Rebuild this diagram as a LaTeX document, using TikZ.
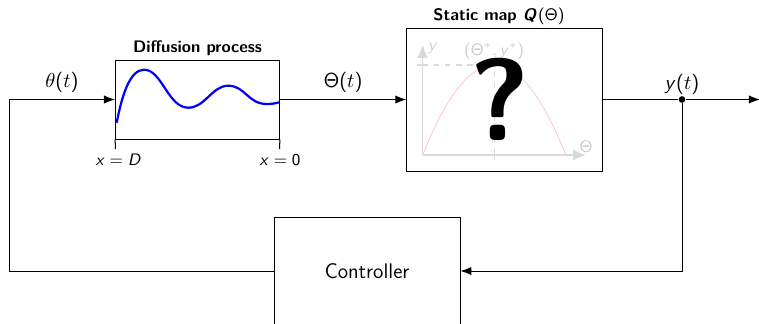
\documentclass[tikz,border=0pt]{standalone}
\usepackage{amsmath,amssymb}
\usepackage{xcolor}
\usepackage{tikz}
\usetikzlibrary{positioning,arrows.meta,calc}
\renewcommand{\familydefault}{\sfdefault}
\DeclareSymbolFont{operators}{OT1}{cmss}{m}{n}
\DeclareMathAlphabet{\mathsfit}{OT1}{cmss}{m}{sl}
\tikzset{
  block/.style={draw,inner sep=0pt},
  signal/.style={line width=0.55pt,-{Latex[length=6pt,width=4.5pt]}},
  wire/.style={line width=0.55pt},
  blocktitle/.style={font=\small\bfseries,inner sep=0pt},
  faded/.style={black!15,line width=0.7pt},
  fadedtext/.style={black!20,inner sep=0pt},
  biglabel/.style={font=\fontsize{11.4}{13}\selectfont,inner sep=0pt},
}
\begin{document}
\begin{tikzpicture}[x=0.54pt,y=-0.54pt]
\useasboundingbox (0,0) rectangle (759,323);
% blocks
\node[block,minimum width=88.6pt,minimum height=42.7pt] (diffusion) at (197.5,99.5) {};
\node[block,minimum width=105.8pt,minimum height=77.2pt] (staticmap) at (504.7,99.5) {};
\node[block,biglabel,minimum width=100.4pt,minimum height=57.6pt] (controller) at (367,271) {Controller};
% titles
\node[blocktitle] (difftitle) at (197.5,48) {Diffusion process};
\node[blocktitle] (maptitle) at (499,16) {Static map \textsl{Q}\kern0.5pt$(\Theta)$};
% spatial axis under the diffusion block
\coordinate (xD) at (115.5,149);
\coordinate (x0) at (279.5,149);
\draw[wire] (diffusion.south west) -- (xD);
\draw[wire] (diffusion.south east) -- (x0);
\node[font=\small,inner sep=0pt] (xDlabel) at (118.5,160) {$\mathsfit{x}=\mathsfit{D}$};
\node[font=\small,inner sep=0pt] (x0label) at (280,160) {$\mathsfit{x}=0$};
% wave inside
\draw[blue,line width=1.2pt] (116.7,122.7) .. controls (122,95) and (130,69.7) .. (144,69.7)
  .. controls (162,69.7) and (168,107.7) .. (188.3,107.7)
  .. controls (205,107.7) and (212,85.7) .. (228.3,85.7)
  .. controls (245,85.7) and (248,104) .. (266.7,104)
  .. controls (271,104) and (275,103.5) .. (279.3,102.3);
% faded sketch of the map
\draw[faded,-{Latex[length=7pt,width=6pt]}] (422.7,155) -- (422.7,45);
\draw[faded,-{Latex[length=7pt,width=6pt]}] (422.7,155) -- (586,155);
\draw[faded,dashed] (422.7,65) -- (494.3,65) -- (494.3,155);
\draw[faded] (417,65) -- (428,65);
\draw[faded] (494.3,150) -- (494.3,160);
\draw[red!20,line width=0.5pt] (422.7,155) parabola bend (494.3,65) (565.7,155);
\node[fadedtext,font=\small] (ylabel) at (433,48) {$\mathsfit{y}$};
\node[fadedtext,font=\small] (peaklabel) at (494,51) {$(\Theta^*,\mathsfit{y}^*)$};
\node[fadedtext,font=\small] (thetalabel) at (586,147) {$\Theta$};
\node[font=\fontsize{63}{63}\selectfont\bfseries,inner sep=0pt] (unknown) at (500,99) {?};
% signals
\coordinate (feedcorner) at (9.6,99.5);
\coordinate (outend) at (760,99.5);
\node[circle,fill=black,inner sep=0pt,minimum size=3.6pt] (junction) at (682,99.5) {};
\draw[signal] (controller.west) -| (feedcorner) -- (diffusion.west);
\draw[signal] (diffusion.east) -- (staticmap.west);
\draw[wire] (staticmap.east) -- (junction);
\draw[signal] (junction) -- (outend);
\draw[signal] (junction) |- (controller.east);
% signal labels
\node[biglabel] (thetain) at (62,82) {$\theta(t)$};
\node[biglabel] (thetaout) at (343,82) {$\Theta(t)$};
\node[biglabel] (yout) at (682,84) {$\mathsfit{y}(t)$};
\end{tikzpicture}
\end{document}
